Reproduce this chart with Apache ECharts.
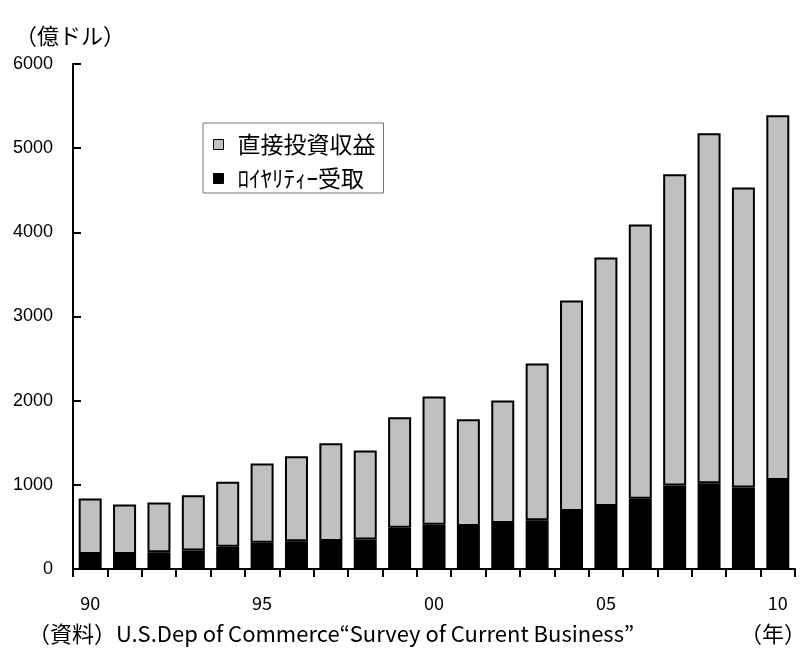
<!DOCTYPE html>
<html>
<head>
<meta charset="utf-8">
<script src="https://cdn.jsdelivr.net/npm/echarts@6/dist/echarts.min.js"></script>
<style>
  html, body { margin: 0; padding: 0; background: #fff; }
  #chart { width: 807px; height: 649px; }
</style>
</head>
<body>
<div id="chart"></div>
<script>
// Years 1990–2010 (two-digit form)
const years = ['90','91','92','93','94','95','96','97','98','99','00',
               '01','02','03','04','05','06','07','08','09','10'];
// Labels shown under the x axis
const tickLabels = ['90','95','00','05','10'];
// Royalty and license-fee receipts (100 million USD)
const royalty = [178, 178, 200, 220, 263, 311, 331, 333, 350, 490, 525,
                 510, 548, 580, 688, 750, 835, 992, 1020, 968, 1058];
// Direct investment income receipts (100 million USD)
const directIncome = [660, 588, 590, 657, 773, 942, 1009, 1162, 1058, 1314, 1524,
                      1270, 1454, 1861, 2502, 2951, 3258, 3699, 4157, 3564, 4334];

const JP = '"Noto Sans CJK JP", sans-serif';
const chart = echarts.init(document.getElementById('chart'), null, { renderer: 'canvas' });

chart.setOption({
  backgroundColor: '#fff',
  animation: false,
  grid: { left: 73, right: 12, top: 64, bottom: 80 },
  legend: {
    orient: 'vertical',
    left: 203,
    top: 123,
    selectedMode: false,
    data: ['直接投資収益', 'ﾛｲﾔﾘﾃｨｰ受取'],
    icon: 'rect',
    itemWidth: 10,
    itemHeight: 10,
    itemGap: 11,
    borderColor: '#777',
    borderWidth: 1,
    padding: [10, 8, 3, 10],
    itemStyle: { borderColor: '#000', borderWidth: 1 },
    textStyle: { fontFamily: JP, fontSize: 23, color: '#000', lineHeight: 22, padding: [0, 0, 0, 9] }
  },
  xAxis: {
    type: 'category',
    data: years,
    boundaryGap: true,
    axisLine: { lineStyle: { color: '#000', width: 2 } },
    axisTick: { show: true, interval: 0, length: 8, lineStyle: { color: '#000', width: 2 } },
    axisLabel: {
      interval: 0,
      margin: 25,
      fontFamily: JP,
      fontSize: 18,
      color: '#000',
      formatter: v => (tickLabels.includes(v) ? v : '')
    },
    splitLine: { show: false }
  },
  yAxis: {
    type: 'value',
    min: 0,
    max: 6000,
    interval: 1000,
    axisLine: { show: true, lineStyle: { color: '#000', width: 2 } },
    axisTick: { show: true, inside: true, length: 8, lineStyle: { color: '#000', width: 2 } },
    axisLabel: {
      margin: 20,
      fontFamily: '"Liberation Sans", Arial, sans-serif',
      fontSize: 18,
      color: '#000',
      formatter: v => String(v)
    },
    splitLine: { show: false }
  },
  series: [
    {
      name: 'ﾛｲﾔﾘﾃｨｰ受取',
      type: 'bar',
      stack: 'total',
      barWidth: 23,
      data: royalty,
      itemStyle: { color: '#000', borderColor: '#000', borderWidth: 2 }
    },
    {
      name: '直接投資収益',
      type: 'bar',
      stack: 'total',
      barWidth: 23,
      data: directIncome,
      itemStyle: { color: '#c0c0c0', borderColor: '#000', borderWidth: 2 }
    }
  ],
  graphic: [
    {
      type: 'text', x: 15, y: 36,
      style: { text: '（億ドル）', fontFamily: JP, fontSize: 22, fill: '#000', verticalAlign: 'middle' }
    },
    {
      type: 'text', x: 28, y: 634,
      style: { text: '（資料）U.S.Dep of Commerce“Survey of Current Business”', fontFamily: JP, fontSize: 22, fill: '#000', verticalAlign: 'middle' }
    },
    {
      type: 'text', x: 806, y: 634,
      style: { text: '（年）', fontFamily: JP, fontSize: 22, fill: '#000', align: 'right', verticalAlign: 'middle' }
    }
  ]
});
</script>
</body>
</html>
